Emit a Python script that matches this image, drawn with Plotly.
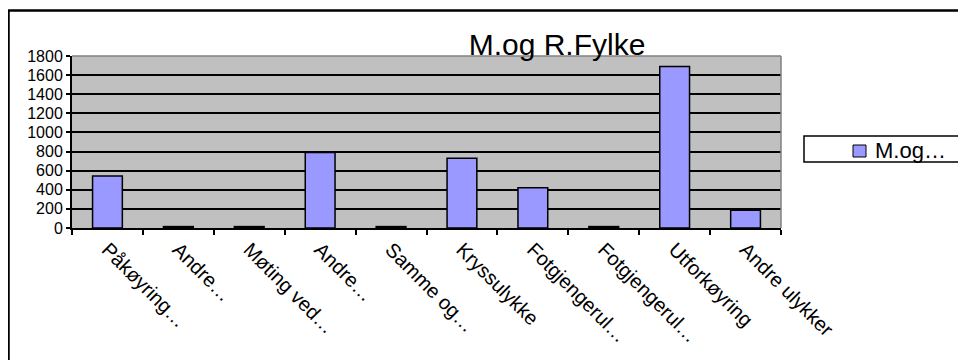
import plotly.graph_objects as go

# ---- data ----
categories = ["Påkøyring…", "Andre…", "Møting ved…", "Andre…", "Samme og…",
              "Kryssulykke", "Fotgjengerul…", "Fotgjengerul…", "Utforkøyring", "Andre ulykker"]
values = [545, 15, 15, 790, 15, 730, 420, 15, 1690, 185]
series_name = "M.og…"
chart_title = "M.og R.Fylke"
y_ticks = [0, 200, 400, 600, 800, 1000, 1200, 1400, 1600, 1800]

# ---- layout constants (page px; the page body adds an 8px offset) ----
OFF = 8
PAGE_W, PAGE_H = 966, 360
W, H = PAGE_W - OFF, PAGE_H - OFF
L, R, T, B = 72 - OFF, 781 - OFF, 56 - OFF, 228 - OFF
pw, ph = R - L, B - T

def px_x(x):  # x given in page pixels
    return (x - OFF - L) / pw

def px_y(y):  # y given in page pixels
    return (B - (y - OFF)) / ph

keys = [str(i) for i in range(len(categories))]
FONT = "Liberation Sans, Arial, sans-serif"
BAR_COLOR = "#9999FF"

fig = go.Figure()
fig.add_trace(go.Bar(
    x=keys, y=values, name=series_name,
    marker=dict(color=BAR_COLOR, line=dict(color="black", width=1.5)),
    showlegend=False,
))

fig.update_layout(
    width=W, height=H,
    margin=dict(l=L, r=W - R, t=T, b=H - B, pad=0),
    paper_bgcolor="white",
    plot_bgcolor="#C0C0C0",
    bargap=0.58,
    showlegend=False,
    font=dict(family=FONT, color="black"),
    title=dict(text=chart_title, font=dict(size=30, family=FONT, color="black"),
               x=px_x(557), xref="paper", xanchor="center",
               y=1 - (44 - OFF) / H, yref="container", yanchor="middle", automargin=False),
    xaxis=dict(type="category", tickvals=keys, ticktext=categories,
               tickangle=45, tickson="boundaries", ticks="outside", ticklen=5,
               tickwidth=1.5, tickcolor="black", automargin=False,
               tickfont=dict(size=20, family=FONT, color="black"),
               showline=True, linecolor="black", linewidth=2,
               showgrid=False, range=[-0.5, len(keys) - 0.5]),
    yaxis=dict(range=[0, 1800], tickvals=y_ticks, ticks="outside", ticklen=4,
               tickwidth=1.5, tickcolor="black", automargin=False,
               tickfont=dict(size=16, family=FONT, color="black"),
               showline=True, linecolor="black", linewidth=2,
               showgrid=True, gridcolor="black", gridwidth=1.5,
               zeroline=False),
)

# plot area border (grey top/right)
fig.add_shape(type="line", xref="paper", yref="paper", x0=0, y0=1, x1=1, y1=1,
              line=dict(color="#808080", width=1.5))
fig.add_shape(type="line", xref="paper", yref="paper", x0=1, y0=0, x1=1, y1=1,
              line=dict(color="#808080", width=1.5))

# outer chart border (left and top visible)
fig.add_shape(type="path", xref="paper", yref="paper",
              path=f"M {px_x(8.5)} {px_y(PAGE_H + 5)} L {px_x(8.5)} {px_y(10.5)} L {px_x(PAGE_W + 5)} {px_y(10.5)}",
              line=dict(color="black", width=2.5))

# legend (drawn by hand so its box matches)
fig.add_shape(type="rect", xref="paper", yref="paper",
              x0=px_x(804), x1=px_x(PAGE_W + 10), y0=px_y(162), y1=px_y(136),
              line=dict(color="black", width=1.5), fillcolor="white")
fig.add_shape(type="rect", xref="paper", yref="paper",
              x0=px_x(853), x1=px_x(866), y0=px_y(157), y1=px_y(145),
              line=dict(color="black", width=1), fillcolor=BAR_COLOR)
fig.add_annotation(xref="paper", yref="paper", x=px_x(873), y=px_y(150),
                   xanchor="left", yanchor="middle", showarrow=False,
                   text=series_name, font=dict(size=22, family=FONT, color="black"))

fig.write_html("out.html")
